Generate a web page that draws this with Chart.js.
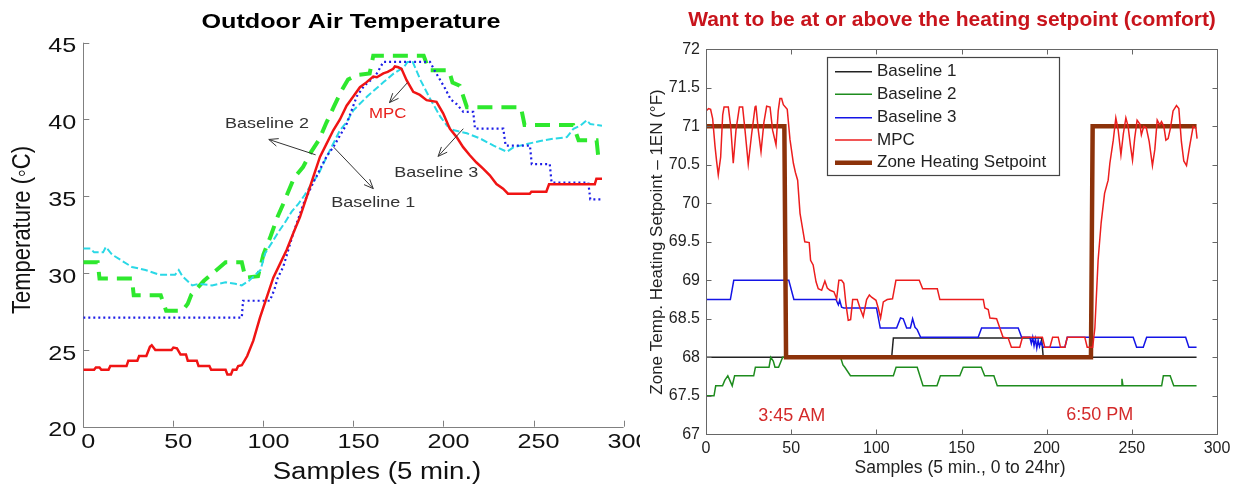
<!DOCTYPE html>
<html>
<head>
<meta charset="utf-8">
<title>Outdoor air temperature and zone heating setpoint</title>
<script src="https://cdn.jsdelivr.net/npm/chart.js@4.4.0/dist/chart.umd.min.js"></script>
<style>
  html, body { margin: 0; padding: 0; background: #fff; }
  #wrap { position: relative; width: 1244px; height: 487px; overflow: hidden; }
  #leftChart { position: absolute; left: 0; top: 0; }
  #rightChart { position: absolute; left: 640px; top: 0; }
</style>
</head>
<body>
<div id="wrap">
  <canvas id="leftChart" width="640" height="487"></canvas>
  <canvas id="rightChart" width="604" height="487"></canvas>
</div>
<script>
// ---- left panel: outdoor air temperature (sample, degC) ----
const xTicks = [0, 50, 100, 150, 200, 250, 300];
const tempTicks = [20, 25, 30, 35, 40, 45];

const oatMPC = [[0,23.7],[6,23.7],[7,23.85],[9,23.85],[10,23.7],[14,23.7],[15,23.95],[24,23.95],[25,24.3],[30,24.3],[31,24.6],[35,24.6],[37,25.2],[38,25.3],[40,25.0],[49,25.0],[50,25.15],[52,25.1],[54,24.7],[57,24.7],[58,24.3],[63,24.3],[64,23.95],[70,23.95],[71,23.7],[79,23.7],[80,23.4],[82,23.4],[83,23.7],[85,23.7],[86,23.95],[88,24.0],[91,24.6],[94.4,25.6],[98.1,27.1],[101.8,28.4],[105.5,29.7],[109.2,30.6],[112.9,31.5],[116.6,32.6],[120.3,33.65],[124,34.95],[127.7,36.26],[131.4,37.56],[135.1,38.43],[138.8,39.3],[142.5,40.0],[146.2,40.9],[149.9,41.5],[153.6,42.1],[157,42.4],[161,42.8],[163,42.75],[166.6,43.0],[169,43.1],[172.1,43.3],[173,43.45],[174.9,43.4],[176.7,43.3],[179.5,42.56],[183.2,41.8],[186.9,41.6],[190.6,41.26],[196.1,41.15],[199.8,40.4],[203.5,39.4],[207.2,38.87],[210.9,38.2],[214.6,37.67],[218.3,37.2],[222,36.8],[225.7,36.37],[229.4,35.8],[233.1,35.5],[235.8,35.17],[247.9,35.17],[248.8,35.3],[257.1,35.3],[258.6,35.78],[284,35.78],[284.9,36.15],[288,36.15]];

const oatBase1 = [[0,27.1],[88,27.1],[88.7,28.2],[103.6,28.2],[106,28.9],[108,29.7],[111,30.4],[116.6,32.6],[122.2,34.5],[127.7,35.9],[135.1,37.6],[138.8,38.2],[146.2,39.7],[151.8,41.5],[156,42.2],[160,42.6],[163,43.0],[166.6,43.75],[192.5,43.75],[195,43.2],[198,42.6],[201,42.0],[204,41.3],[207.3,41.0],[211,40.5],[216.5,40.5],[217.5,39.4],[233.2,39.4],[234.5,38.3],[248,38.3],[249,37.1],[259,37.1],[260,35.9],[280.4,35.9],[281.5,34.8],[288,34.8]];

const oatBase2 = [[0,30.7],[8,30.7],[9,29.65],[27,29.65],[28,28.55],[43,28.55],[46,27.55],[55,27.55],[58,28.0],[60,28.6],[67,29.5],[74,30.2],[79,30.7],[88,30.7],[90,29.7],[97,29.8],[100,31.2],[104,32.4],[108,33.7],[111,34.5],[117,36.2],[122,36.9],[126,37.8],[131,38.7],[135,39.8],[139,40.8],[143,41.8],[147,42.6],[152,42.9],[159,43.0],[161,44.15],[189,44.15],[192,43.2],[203,43.2],[205,42.4],[209,42.2],[213,40.8],[243,40.8],[245,39.65],[272,39.65],[275,38.65],[285,38.65],[286,37.5],[288,37.4]];

const oatBase3 = [[0,31.6],[4,31.6],[6,31.35],[11,31.35],[12.5,31.7],[16,31.2],[21.5,30.8],[27,30.4],[34.5,30.2],[42,29.9],[51,29.9],[53,30.2],[55,29.8],[58.6,29.4],[60.5,29.2],[64,29.3],[71.5,29.2],[79,29.4],[84.4,29.3],[88,29.2],[92,29.5],[95.6,29.9],[98.4,30.2],[101,31.3],[104.8,32.0],[108.5,32.7],[112,33.3],[115.7,34.0],[119.4,34.5],[123,35.1],[126.7,35.8],[130.4,36.4],[134,37.3],[137.8,38.2],[142.5,39.3],[146,39.8],[150,40.6],[157.6,41.5],[166.9,42.45],[172.4,43.0],[178,43.4],[180,43.75],[182.9,43.75],[187.5,42.5],[193,41.26],[198.3,40.17],[202,39.6],[205.8,39.3],[213,39.1],[220.4,38.76],[227.8,38.3],[235.2,37.9],[239,38.2],[246.3,38.4],[253.7,38.6],[261,38.75],[268.5,38.85],[272.2,39.4],[276,39.6],[279.5,39.95],[281.5,39.7],[288,39.6]];

// annotation labels: [text, sample, value] and arrows: [fromSample, fromValue, toSample, toValue]
const leftNotes = [["Baseline 2",102,39.7],["Baseline 1",161,34.6],["MPC",169,40.35],["Baseline 3",196,36.5]];
const leftArrows = [[129,37.7,103,38.7],[139,38.2,161,35.5],[180,42.4,170,41.1],[211,39.4,197,37.6]];

// ---- right panel: zone temperature (sample, degF) ----
const zoneTicks = [67, 67.5, 68, 68.5, 69, 69.5, 70, 70.5, 71, 71.5, 72];

const zoneSetpoint = [[0,71],[46,71],[47,68],[226,68],[227,71],[288,71]];
const zoneBase1 = [[0,68],[109,68],[110,68.25],[197,68.25],[198,68],[288,68]];
const zoneBase2 = [[0,67.5],[4.7,67.5],[5.7,67.63],[9.7,67.63],[11,67.7],[12.8,67.76],[14,67.7],[15.4,67.63],[16.8,67.76],[28,67.76],[29,67.87],[37,67.87],[38,68.0],[39.5,67.95],[40.5,67.87],[42.6,67.87],[45,68.0],[79,68.0],[80.4,67.9],[81.5,67.87],[84.8,67.76],[110,67.76],[111.6,67.87],[124,67.87],[127.4,67.63],[135.6,67.63],[137.6,67.76],[149,67.76],[151,67.87],[161.6,67.87],[163.6,67.76],[169,67.76],[171,67.63],[243.7,67.63],[244.2,67.72],[244.8,67.63],[267.5,67.63],[268.5,67.76],[272.5,67.76],[274.6,67.63],[288,67.63]];
const zoneBase3 = [[0,68.75],[14.3,68.75],[16.3,69.0],[48.6,69.0],[51.6,68.75],[76.3,68.75],[77.7,68.68],[78.5,68.74],[79.6,68.65],[80.9,68.64],[100.1,68.64],[102.3,68.38],[111.9,68.38],[114.2,68.51],[115.8,68.5],[117.8,68.38],[120,68.38],[121.3,68.5],[122.7,68.39],[124,68.36],[126,68.26],[159.8,68.26],[161.8,68.38],[183.3,68.38],[185.3,68.26],[190.1,68.26],[191,68.18],[191.8,68.26],[192.6,68.15],[193.4,68.24],[194.2,68.12],[195,68.22],[195.8,68.14],[196.6,68.2],[198,68.13],[210.7,68.13],[212.1,68.26],[250.8,68.26],[252.8,68.13],[256.7,68.13],[258.7,68.26],[281.6,68.26],[283.5,68.13],[288,68.13]];
const zoneMPC = [[0,71.2],[1.5,71.23],[2.7,71.22],[3.9,71.1],[5.3,70.74],[6.2,70.55],[7.2,70.37],[8.6,70.6],[9.8,71.15],[10.6,71.25],[13.1,71.25],[14.5,71.0],[16,70.52],[17.6,70.95],[19.6,71.25],[21.5,71.25],[22.9,70.95],[24.8,70.51],[26.8,70.9],[28.8,71.25],[29.3,71.27],[30.7,70.95],[32.3,70.67],[34,71.05],[35.6,71.26],[37.6,71.25],[39.1,70.95],[41.1,70.76],[42.4,71.2],[43.4,71.36],[44.4,71.36],[45.4,71.28],[47.7,71.22],[49.3,70.83],[51.3,70.52],[52.5,70.4],[53.8,70.3],[55.2,69.87],[58.0,69.5],[60.6,69.49],[61.4,69.26],[62.9,69.2],[64.6,68.98],[65.9,68.89],[67.9,68.87],[69.8,68.99],[71.2,68.9],[72.8,68.87],[75.1,68.85],[76.7,68.76],[78,69.0],[79.6,69.0],[80.9,68.96],[82.1,68.7],[83.5,68.48],[84.9,68.49],[86.1,68.75],[88.8,68.75],[90.4,68.64],[92.3,68.53],[94.3,68.75],[95.9,68.81],[97.2,68.78],[99.8,68.74],[101.1,68.64],[102.5,68.51],[104.1,68.72],[106.4,68.75],[109.5,68.76],[111.5,69.0],[125.2,69.0],[127.2,68.89],[135.8,68.89],[137.3,68.75],[162.8,68.75],[163.7,68.64],[165.7,68.62],[166.7,68.51],[170.6,68.5],[172.5,68.38],[174.4,68.26],[177.4,68.25],[179.3,68.13],[184.2,68.13],[185.8,68.26],[197.5,68.26],[198.9,68.13],[201.9,68.13],[203.5,68.26],[206.8,68.26],[208.1,68.13],[210.7,68.13],[212.1,68.26],[222.4,68.26],[223.8,68.13],[227,68.13],[228.3,68.38],[230.2,69.26],[232,69.75],[234,70.13],[236.1,70.3],[237.1,70.52],[239.1,70.82],[240.6,71.11],[242,70.95],[243.6,70.63],[245,70.9],[246.5,71.11],[247.8,71.0],[249.2,70.75],[250.4,70.56],[251.7,70.85],[253.1,71.08],[254.7,71.03],[255.6,70.89],[257,71.0],[258.5,70.98],[260.2,70.8],[262.1,70.49],[263.5,70.7],[264.9,71.08],[266.4,71.02],[267.4,71.06],[268.8,71.0],[270,70.82],[271.3,70.84],[272.7,70.98],[274.2,71.2],[276.2,71.27],[277.6,71.23],[279.1,70.8],[280.5,70.55],[282.1,70.49],[284,70.75],[286,71.0],[287.6,70.98],[288.3,70.84]];

const rightNotes = [["3:45 AM",50.3,67.24],["6:50 PM",231.2,67.25]];

const FONT = "'Liberation Sans', Arial, Helvetica, sans-serif";

function toXY(pts) {
  return pts.map(p => ({ x: p[0], y: p[1] }));
}

// draws text, optionally stretched horizontally (the left panel of the source is stretched)
function drawText(ctx, str, x, y, size, opts) {
  opts = opts || {};
  ctx.save();
  ctx.translate(x, y);
  ctx.scale(opts.sx || 1, 1);
  if (opts.rot) ctx.rotate(opts.rot);
  ctx.font = (opts.bold ? "bold " : "") + size + "px " + FONT;
  ctx.fillStyle = opts.color || "#222";
  ctx.textAlign = opts.align || "center";
  ctx.textBaseline = "middle";
  ctx.fillText(str, 0, 0);
  ctx.restore();
}

function drawArrow(ctx, x0, y0, x1, y1) {
  const ang = Math.atan2(y1 - y0, x1 - x0);
  const head = 10;
  ctx.beginPath();
  ctx.moveTo(x0, y0);
  ctx.lineTo(x1, y1);
  ctx.moveTo(x1 - head * Math.cos(ang - 0.4), y1 - head * Math.sin(ang - 0.4));
  ctx.lineTo(x1, y1);
  ctx.lineTo(x1 - head * Math.cos(ang + 0.4), y1 - head * Math.sin(ang + 0.4));
  ctx.stroke();
}

const SX = 1.2;

const leftDecor = {
  id: "leftDecor",
  beforeDatasetsDraw(chart) {
    const { ctx, chartArea: a, scales: { x, y } } = chart;
    ctx.save();
    ctx.strokeStyle = "#808080";
    ctx.lineWidth = 1;
    ctx.beginPath();
    ctx.moveTo(Math.round(a.left) + 0.5, a.top);
    ctx.lineTo(Math.round(a.left) + 0.5, Math.round(a.bottom) + 0.5);
    ctx.lineTo(a.right, Math.round(a.bottom) + 0.5);
    xTicks.forEach(v => {
      const px = Math.round(x.getPixelForValue(v)) + 0.5;
      ctx.moveTo(px, a.bottom);
      ctx.lineTo(px, a.bottom - 6);
    });
    tempTicks.forEach(v => {
      const py = Math.round(y.getPixelForValue(v)) + 0.5;
      ctx.moveTo(a.left, py);
      ctx.lineTo(a.left + 6, py);
    });
    ctx.stroke();
    ctx.restore();
  },
  afterDraw(chart) {
    const { ctx, chartArea: a, scales: { x, y } } = chart;
    xTicks.forEach(v => drawText(ctx, String(v), x.getPixelForValue(v) + 5, 442, 21, { sx: SX, color: "#111" }));
    tempTicks.forEach(v => drawText(ctx, String(v), a.left - 7, y.getPixelForValue(v) + 4, 21, { sx: SX, align: "right", color: "#111" }));

    drawText(ctx, "Outdoor Air Temperature", 351, 22, 21, { sx: SX, bold: true, color: "#000" });
    drawText(ctx, "Samples (5 min.)", 377, 473, 23, { sx: SX, color: "#111" });
    drawText(ctx, "Temperature (\u25E6C)", 23, 230, 22, { sx: SX, rot: -Math.PI / 2, color: "#111" });

    ctx.save();
    ctx.strokeStyle = "#333";
    ctx.lineWidth = 1;
    leftArrows.forEach(r => drawArrow(ctx, x.getPixelForValue(r[0]), y.getPixelForValue(r[1]), x.getPixelForValue(r[2]), y.getPixelForValue(r[3])));
    ctx.restore();
    leftNotes.forEach(n => {
      const isMPC = n[0] === "MPC";
      drawText(ctx, n[0], x.getPixelForValue(n[1]), y.getPixelForValue(n[2]), isMPC ? 14 : 15,
        { sx: SX, color: isMPC ? "#e8201c" : "#333" });
    });
  }
};

function fmtTick(v) {
  return Number.isInteger(v) ? String(v) : v.toFixed(1);
}

const rightDecor = {
  id: "rightDecor",
  afterDatasetsDraw(chart) {
    const { ctx, chartArea: a, scales: { x, y } } = chart;
    const L = Math.round(a.left) + 0.5, R = Math.round(a.right) + 0.5;
    const T = Math.round(a.top) + 0.5, B = Math.round(a.bottom) + 0.5;
    ctx.save();
    ctx.strokeStyle = "#666";
    ctx.lineWidth = 1;
    ctx.strokeRect(L, T, R - L, B - T);
    ctx.beginPath();
    xTicks.forEach(v => {
      const px = Math.round(x.getPixelForValue(v)) + 0.5;
      ctx.moveTo(px, B); ctx.lineTo(px, B - 5);
      ctx.moveTo(px, T); ctx.lineTo(px, T + 5);
    });
    zoneTicks.forEach(v => {
      const py = Math.round(y.getPixelForValue(v)) + 0.5;
      ctx.moveTo(L, py); ctx.lineTo(L + 5, py);
      ctx.moveTo(R, py); ctx.lineTo(R - 5, py);
    });
    ctx.stroke();
    ctx.restore();

    // legend box
    const lx = 187, ly = 57, lw = 232, lh = 118;
    ctx.save();
    ctx.fillStyle = "#fff";
    ctx.fillRect(lx, ly, lw, lh);
    ctx.strokeStyle = "#444";
    ctx.lineWidth = 1.2;
    ctx.strokeRect(lx + 0.5, ly + 0.5, lw, lh);
    const rows = [71.7, 94.3, 117.7, 140, 162.7];
    chart.data.datasets.slice().sort((p, q) => p.legendIndex - q.legendIndex).forEach((ds, i) => {
      const ry = rows[i];
      ctx.strokeStyle = ds.borderColor;
      ctx.lineWidth = ds.borderWidth;
      ctx.beginPath();
      ctx.moveTo(195, ry);
      ctx.lineTo(232, ry);
      ctx.stroke();
      drawText(ctx, ds.label, 237, ry, 17, { align: "left", color: "#222" });
    });
    ctx.restore();
  },
  afterDraw(chart) {
    const { ctx, chartArea: a, scales: { x, y } } = chart;
    xTicks.forEach(v => drawText(ctx, String(v), x.getPixelForValue(v), 449, 16, { color: "#222" }));
    zoneTicks.forEach(v => drawText(ctx, fmtTick(v), a.left - 6, y.getPixelForValue(v), 16, { align: "right", color: "#222" }));
    drawText(ctx, "Want to be at or above the heating setpoint (comfort)", 312, 20, 21, { bold: true, color: "#c8141c" });
    drawText(ctx, "Samples (5 min., 0 to 24hr)", 320, 468, 17.5, { color: "#222" });
    drawText(ctx, "Zone Temp. Heating Setpoint \u2013 1EN (\u00B0F)", 17, 242, 17, { rot: -Math.PI / 2, color: "#222" });
    rightNotes.forEach(n => drawText(ctx, n[0], x.getPixelForValue(n[1]), y.getPixelForValue(n[2]), 18, { color: "#d42a2a" }));
  }
};

Chart.defaults.font.family = FONT;

new Chart(document.getElementById("leftChart"), {
  type: "line",
  data: {
    datasets: [
      { label: "MPC", data: toXY(oatMPC), borderColor: "#f01414", borderWidth: 2.5, order: 0 },
      { label: "Baseline 1", data: toXY(oatBase1), borderColor: "#1e1ee6", borderWidth: 2.2, borderDash: [2, 3], order: 1 },
      { label: "Baseline 3", data: toXY(oatBase3), borderColor: "#2ad8e6", borderWidth: 2, borderDash: [7, 3], order: 2 },
      { label: "Baseline 2", data: toXY(oatBase2), borderColor: "#2ee82e", borderWidth: 4, borderDash: [15, 9], order: 3 }
    ]
  },
  options: {
    responsive: false,
    animation: false,
    devicePixelRatio: 1,
    layout: { padding: { left: 0, right: 16.4, top: 42.7, bottom: 0 } },
    elements: { point: { radius: 0 }, line: { tension: 0, fill: false } },
    plugins: { legend: { display: false }, tooltip: { enabled: false }, title: { display: false } },
    scales: {
      x: {
        type: "linear", min: 0, max: 300,
        ticks: { display: false, stepSize: 50 },
        grid: { display: false }, border: { display: false },
        afterFit: s => { s.height = 487 - 426.7; s.paddingLeft = 0; s.paddingRight = 0; }
      },
      y: {
        type: "linear", min: 20, max: 45,
        ticks: { display: false, stepSize: 5 },
        grid: { display: false }, border: { display: false },
        afterFit: s => { s.width = 83.3; s.paddingTop = 0; s.paddingBottom = 0; }
      }
    }
  },
  plugins: [leftDecor]
});

new Chart(document.getElementById("rightChart"), {
  type: "line",
  data: {
    datasets: [
      { label: "MPC", data: toXY(zoneMPC), borderColor: "#ec1e1e", borderWidth: 1.5, order: 0, legendIndex: 3 },
      { label: "Zone Heating Setpoint", data: toXY(zoneSetpoint), borderColor: "#8c320a", borderWidth: 4.5, order: 1, legendIndex: 4 },
      { label: "Baseline 3", data: toXY(zoneBase3), borderColor: "#1414e6", borderWidth: 1.5, order: 2, legendIndex: 2 },
      { label: "Baseline 2", data: toXY(zoneBase2), borderColor: "#1e8c1e", borderWidth: 1.5, order: 3, legendIndex: 1 },
      { label: "Baseline 1", data: toXY(zoneBase1), borderColor: "#222222", borderWidth: 1.5, order: 4, legendIndex: 0 }
    ]
  },
  options: {
    responsive: false,
    animation: false,
    devicePixelRatio: 1,
    layout: { padding: { left: 0, right: 27, top: 49.3, bottom: 0 } },
    elements: { point: { radius: 0 }, line: { tension: 0, fill: false } },
    plugins: { legend: { display: false }, tooltip: { enabled: false }, title: { display: false } },
    scales: {
      x: {
        type: "linear", min: 0, max: 300,
        ticks: { display: false, stepSize: 50 },
        grid: { display: false }, border: { display: false },
        afterFit: s => { s.height = 487 - 434.3; s.paddingLeft = 0; s.paddingRight = 0; }
      },
      y: {
        type: "linear", min: 67, max: 72,
        ticks: { display: false, stepSize: 0.5 },
        grid: { display: false }, border: { display: false },
        afterFit: s => { s.width = 66; s.paddingTop = 0; s.paddingBottom = 0; }
      }
    }
  },
  plugins: [rightDecor]
});
</script>
</body>
</html>
